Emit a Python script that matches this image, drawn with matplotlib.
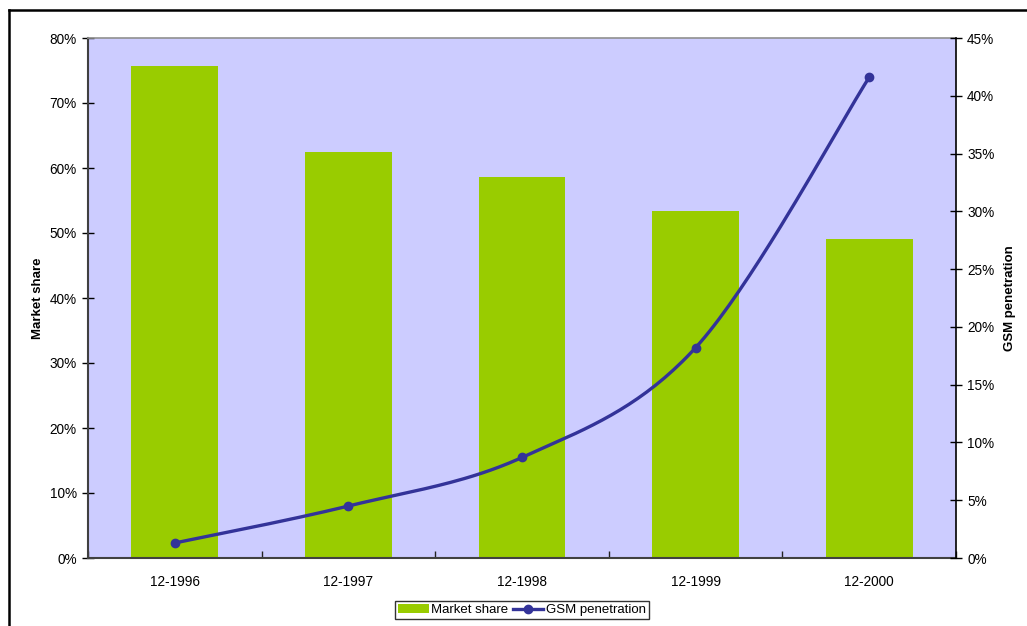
import numpy as np
import matplotlib
matplotlib.use("Agg")
import matplotlib.pyplot as plt
from matplotlib.lines import Line2D
from matplotlib.patches import Patch
from matplotlib.ticker import FuncFormatter, MultipleLocator

plt.rcParams['font.family'] = ['Liberation Sans', 'DejaVu Sans']

# -------------------------------------------------------------
# Data
# -------------------------------------------------------------
periods      = ['12-1996', '12-1997', '12-1998', '12-1999', '12-2000']
market_share = [75.7, 62.5, 58.6, 53.4, 49.1]   # % (left axis)
gsm_pen      = [1.3, 4.5, 8.7, 18.2, 41.6]      # % (right axis)

BAR_COL  = '#99CC00'
LINE_COL = '#333399'
BG_COL   = '#CCCCFF'
FS = 9.8


# -------------------------------------------------------------
# Excel-like smoothed line (Catmull-Rom -> cubic Bezier)
# -------------------------------------------------------------
def smooth(xs, ys, n=40):
    p = np.column_stack([xs, ys]).astype(float)
    ext = np.vstack([p[0], p, p[-1]])
    out = []
    for i in range(len(p) - 1):
        p0, p1, p2, p3 = ext[i], ext[i + 1], ext[i + 2], ext[i + 3]
        c1 = p1 + (p2 - p0) / 6.0
        c2 = p2 - (p3 - p1) / 6.0
        t = np.linspace(0, 1, n)[:, None]
        seg = ((1 - t)**3) * p1 + 3 * ((1 - t)**2) * t * c1 + 3 * (1 - t) * t**2 * c2 + t**3 * p2
        out.append(seg if i == 0 else seg[1:])
    s = np.vstack(out)
    return s[:, 0], s[:, 1]


x = np.arange(len(periods))

fig = plt.figure(figsize=(10.27, 6.26), dpi=100)
W, H = 1027, 626
ax = fig.add_axes([88 / W, 1 - 558 / H, (956 - 88) / W, (558 - 38) / H])
ax.set_facecolor(BG_COL)
ax.bar(x, market_share, width=0.5, color=BAR_COL, zorder=2)
ax.set_xlim(-0.5, len(periods) - 0.5)
ax.set_ylim(0, 80)
ax.yaxis.set_major_locator(MultipleLocator(10))
ax.yaxis.set_major_formatter(FuncFormatter(lambda v, p: f'{v:.0f}%'))
ax.set_xticks(x)
ax.set_xticklabels(periods)
ax.set_xticks(np.arange(-0.5, len(periods), 1.0), minor=True)
ax.tick_params(axis='x', which='major', length=0, pad=12, labelsize=FS)
ax.tick_params(axis='x', which='minor', direction='in', length=5, width=1, color='#222222')
ax.tick_params(axis='y', direction='inout', length=8, width=1, labelsize=FS, pad=4)
ax.set_ylabel('Market share', fontsize=FS - 0.3, fontweight='bold', labelpad=4)
for s in ['left', 'bottom']:
    ax.spines[s].set_color('#404040')
    ax.spines[s].set_linewidth(1.5)
ax.spines['top'].set_color('#909090')
ax.spines['top'].set_linewidth(1.2)
ax.spines['right'].set_visible(False)

ax2 = ax.twinx()
ax2.set_ylim(0, 45)
ax2.yaxis.set_major_locator(MultipleLocator(5))
ax2.yaxis.set_major_formatter(FuncFormatter(lambda v, p: f'{v:.0f}%'))
ax2.tick_params(axis='y', direction='inout', length=8, width=1, labelsize=FS, pad=4)
sx, sy = smooth(x, gsm_pen)
ax2.plot(sx, sy, color=LINE_COL, lw=2.4, solid_capstyle='round', zorder=3)
ax2.plot(x, gsm_pen, 'o', color=LINE_COL, ms=6, zorder=4)
ax2.set_ylabel('GSM penetration', fontsize=FS - 0.3, fontweight='bold', labelpad=7)
ax2.spines['right'].set_color('black')
ax2.spines['right'].set_linewidth(1.2)
for s in ['left', 'top', 'bottom']:
    ax2.spines[s].set_visible(False)

# legend
handles = [Patch(facecolor=BAR_COL, edgecolor='none'),
           Line2D([], [], color=LINE_COL, lw=2.4, marker='o', ms=6)]
leg = fig.legend(handles, ['Market share', 'GSM penetration'], ncol=2,
                 loc='center', bbox_to_anchor=(522 / W, 1 - 610 / H),
                 fontsize=FS - 0.3, frameon=True, fancybox=False, borderpad=0.25,
                 handlelength=2.3, handletextpad=0.2, columnspacing=0.3,
                 borderaxespad=0)
leg.get_frame().set_edgecolor('black')
leg.get_frame().set_linewidth(1.0)

# outer chart frame (left and top edges visible)
fig.add_artist(Line2D([9 / W, 9 / W], [0, 1 - 10 / H], color='black', lw=1.8))
fig.add_artist(Line2D([9 / W, 1], [1 - 10 / H, 1 - 10 / H], color='black', lw=1.8))

fig.savefig('out.png', dpi=100)
